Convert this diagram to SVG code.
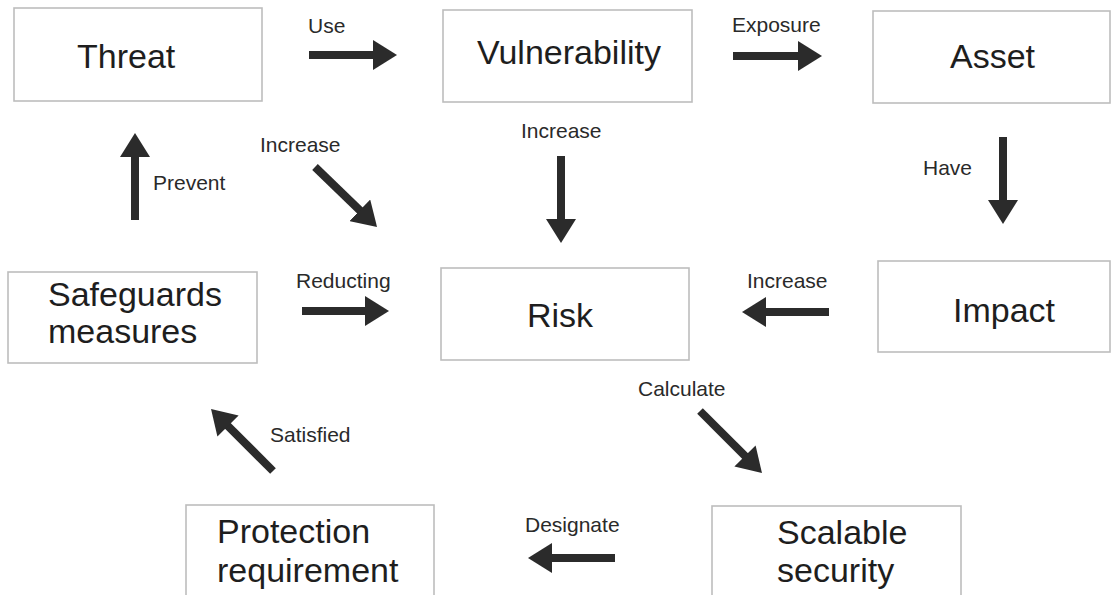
<svg xmlns="http://www.w3.org/2000/svg" width="1112" height="595" viewBox="0 0 1112 595">
<style>
.box{fill:#fff;stroke:#bdbdbd;stroke-width:1.6}
.nt{font-family:"Liberation Sans",Arial,sans-serif;font-size:34px;fill:#1e1e1e}
.lb{font-family:"Liberation Sans",Arial,sans-serif;font-size:21px;fill:#2a2a2a}
.ar{stroke:#2b2b2b;stroke-width:8;fill:none;marker-end:url(#head)}
</style>
<defs>
<marker id="head" viewBox="0 0 24 30" refX="1" refY="15" markerUnits="userSpaceOnUse" markerWidth="24" markerHeight="30" orient="auto">
<path d="M0,0 L24,15 L0,30 Z" fill="#2b2b2b"/>
</marker>
</defs>
<rect width="1112" height="595" fill="#fff"/>
<g id="threat"><rect class="box" x="14" y="8" width="248" height="93"/><text class="nt" x="77" y="68">Threat</text></g>
<g id="vulnerability"><rect class="box" x="443" y="10" width="249" height="92"/><text class="nt" x="477" y="64">Vulnerability</text></g>
<g id="asset"><rect class="box" x="873" y="11" width="237" height="92"/><text class="nt" x="950" y="68">Asset</text></g>
<g id="safeguards"><rect class="box" x="8" y="272" width="249" height="91"/><text class="nt" x="48" y="306">Safeguards</text><text class="nt" x="48" y="343">measures</text></g>
<g id="risk"><rect class="box" x="441" y="268" width="248" height="92"/><text class="nt" x="527" y="327">Risk</text></g>
<g id="impact"><rect class="box" x="878" y="261" width="232" height="91"/><text class="nt" x="953" y="322">Impact</text></g>
<g id="protection"><rect class="box" x="186" y="505" width="248" height="100"/><text class="nt" x="217" y="543">Protection</text><text class="nt" x="217" y="582">requirement</text></g>
<g id="scalable"><rect class="box" x="712" y="506" width="249" height="100"/><text class="nt" x="777" y="544">Scalable</text><text class="nt" x="777" y="582">security</text></g>
<g id="connectors">
<line class="ar" x1="309" y1="55" x2="374" y2="55"/>
<text class="lb" x="308" y="33">Use</text>
<line class="ar" x1="733" y1="56" x2="799" y2="56"/>
<text class="lb" x="732" y="32">Exposure</text>
<line class="ar" x1="1003" y1="137" x2="1003" y2="201"/>
<text class="lb" x="923" y="175">Have</text>
<line class="ar" x1="135" y1="220" x2="135" y2="156"/>
<text class="lb" x="153" y="190">Prevent</text>
<line class="ar" x1="315" y1="167" x2="360.5" y2="211"/>
<text class="lb" x="260" y="152">Increase</text>
<line class="ar" x1="561" y1="156" x2="561" y2="220"/>
<text class="lb" x="521" y="138">Increase</text>
<line class="ar" x1="302" y1="311" x2="366" y2="311"/>
<text class="lb" x="296" y="288">Reducting</text>
<line class="ar" x1="829" y1="312" x2="765" y2="312"/>
<text class="lb" x="747" y="288">Increase</text>
<line class="ar" x1="700" y1="411" x2="745.7" y2="456.7"/>
<text class="lb" x="638" y="396">Calculate</text>
<line class="ar" x1="615" y1="558" x2="551" y2="558"/>
<text class="lb" x="525" y="532">Designate</text>
<line class="ar" x1="273" y1="471" x2="227.3" y2="425.3"/>
<text class="lb" x="270" y="442">Satisfied</text>
</g>
</svg>
